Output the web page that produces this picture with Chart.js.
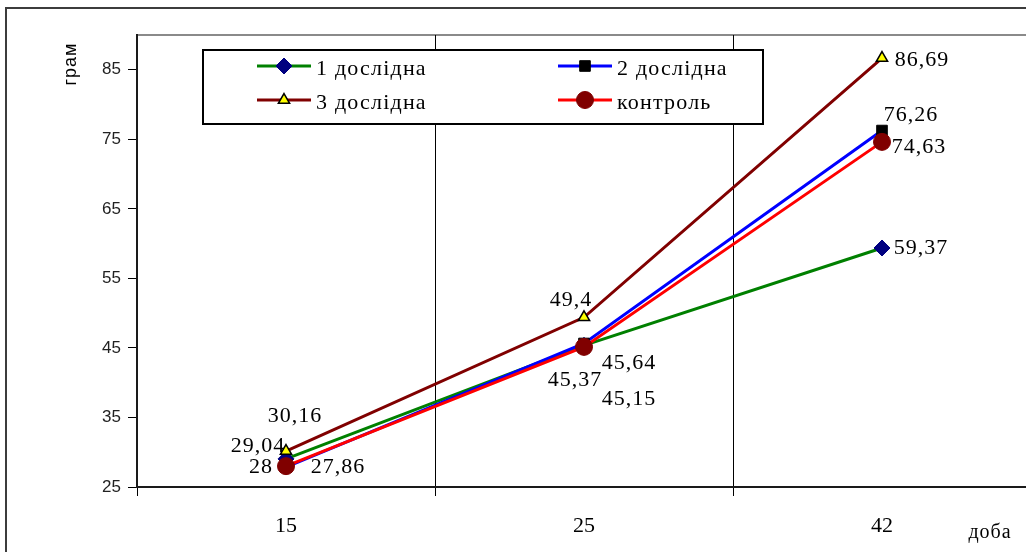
<!DOCTYPE html>
<html>
<head>
<meta charset="utf-8">
<script src="https://cdn.jsdelivr.net/npm/chart.js@4"></script>
<style>
  html, body { margin: 0; padding: 0; overflow: hidden; background: #fff; }
  #wrap { position: absolute; left: 0; top: 0; width: 1060px; height: 552px; }
</style>
</head>
<body>
<div id="wrap"><canvas id="chart"></canvas></div>
<script>
// Live weight by day, grams
const days = ['15', '25', '42'];
const group1 = [29.04, 45.37, 59.37];
const group2 = [27.86, 45.64, 76.26];
const group3 = [30.16, 49.4, 86.69];
const control = [28, 45.15, 74.63];
const yTicks = [25, 35, 45, 55, 65, 75, 85];

// where each value label sits relative to its point (dx, dy)
const labelShift = [
  [[-28, -13], [-9, 35], [39, 0]],
  [[52, 0], [45, 20], [29, -15]],
  [[9, -35], [-13, -17], [40, 2]],
  [[-25, 1], [45, 52], [37, 5]]
];

const serif = '"Liberation Serif", "Times New Roman", serif';
const sans = '"Liberation Sans", Arial, sans-serif';

const fmt = v => String(v).replace('.', ',');

function drawMarker(ctx, ds, x, y) {
  ctx.save();
  ctx.fillStyle = ds.pointBackgroundColor;
  ctx.strokeStyle = ds.pointBorderColor;
  ctx.lineWidth = ds.pointBorderWidth;
  Chart.helpers.drawPoint(ctx, {
    pointStyle: ds.pointStyle,
    radius: ds.pointRadius,
    borderWidth: ds.pointBorderWidth,
    rotation: 0
  }, x, y);
  ctx.restore();
}

const framePlugin = {
  id: 'frame',
  beforeDraw(chart) {
    const { ctx, chartArea: a } = chart;
    ctx.save();
    // outer border of the chart object
    ctx.strokeStyle = '#3c3c3c';
    ctx.lineWidth = 2;
    ctx.strokeRect(6, 8, 2000, 2000);
    // top edge of plot area
    ctx.strokeStyle = '#8a8a8a';
    ctx.lineWidth = 2;
    ctx.beginPath();
    ctx.moveTo(a.left, a.top);
    ctx.lineTo(a.right, a.top);
    ctx.stroke();
    ctx.restore();
  },
  afterDraw(chart) {
    const { ctx } = chart;
    ctx.save();
    ctx.fillStyle = '#000';
    // axis titles
    ctx.font = '18px ' + sans;
    ctx.letterSpacing = '1px';
    ctx.textAlign = 'center';
    ctx.textBaseline = 'middle';
    ctx.translate(71, 64);
    ctx.rotate(-Math.PI / 2);
    ctx.fillText('грам', 0, 0);
    ctx.setTransform(1, 0, 0, 1, 0, 0);
    ctx.font = '20px ' + serif;
    ctx.fillText('доба', 990, 533);

    // legend
    const box = { left: 203, top: 50, right: 763, bottom: 124 };
    ctx.fillStyle = '#fff';
    ctx.fillRect(box.left, box.top, box.right - box.left, box.bottom - box.top);
    ctx.strokeStyle = '#000';
    ctx.lineWidth = 2;
    ctx.strokeRect(box.left, box.top, box.right - box.left, box.bottom - box.top);
    const cols = [257, 558];
    const rows = [66, 100];
    ctx.font = '22px ' + serif;
    ctx.letterSpacing = '1.2px';
    ctx.textAlign = 'left';
    chart.data.datasets.forEach((ds, i) => {
      const x = cols[i % 2];
      const y = rows[Math.floor(i / 2)];
      ctx.strokeStyle = ds.borderColor;
      ctx.lineWidth = 3;
      ctx.beginPath();
      ctx.moveTo(x, y);
      ctx.lineTo(x + 54, y);
      ctx.stroke();
      drawMarker(ctx, ds, x + 27, y);
      ctx.fillStyle = '#000';
      ctx.fillText(ds.label, x + 59, y + 3);
    });
    ctx.restore();
  }
};

const valueLabels = {
  id: 'valueLabels',
  afterDatasetsDraw(chart) {
    const { ctx } = chart;
    ctx.save();
    ctx.font = '22px ' + serif;
    ctx.letterSpacing = '1px';
    ctx.fillStyle = '#000';
    ctx.textAlign = 'center';
    ctx.textBaseline = 'middle';
    chart.data.datasets.forEach((ds, i) => {
      chart.getDatasetMeta(i).data.forEach((pt, j) => {
        const [dx, dy] = labelShift[i][j];
        ctx.fillText(fmt(ds.data[j]), pt.x + dx, pt.y + dy);
      });
    });
    ctx.restore();
  }
};

new Chart(document.getElementById('chart'), {
  type: 'line',
  data: {
    labels: days,
    datasets: [
      {
        label: '1 дослідна', data: group1, order: 3,
        borderColor: '#008000', borderWidth: 3,
        pointStyle: 'rectRot', pointRadius: 8,
        pointBackgroundColor: '#000080', pointBorderColor: '#000080', pointBorderWidth: 1
      },
      {
        label: '2 дослідна', data: group2, order: 2,
        borderColor: '#0000ff', borderWidth: 3,
        pointStyle: 'rect', pointRadius: 7.5,
        pointBackgroundColor: '#000', pointBorderColor: '#000', pointBorderWidth: 1
      },
      {
        label: '3 дослідна', data: group3, order: 1,
        borderColor: '#800000', borderWidth: 3,
        pointStyle: 'triangle', pointRadius: 6.5,
        pointBackgroundColor: '#ffff00', pointBorderColor: '#000', pointBorderWidth: 1.5
      },
      {
        label: 'контроль', data: control, order: 0,
        borderColor: '#ff0000', borderWidth: 3,
        pointStyle: 'circle', pointRadius: 8.5,
        pointBackgroundColor: '#800000', pointBorderColor: '#800000', pointBorderWidth: 1
      }
    ]
  },
  options: {
    responsive: true,
    maintainAspectRatio: false,
    animation: false,
    layout: { padding: { top: 35, right: 29, left: 0, bottom: 0 } },
    elements: { line: { tension: 0 } },
    scales: {
      x: {
        offset: true,
        grid: {
          offset: true,
          color: '#000',
          lineWidth: 1,
          drawOnChartArea: true,
          tickLength: 9,
          tickColor: '#000'
        },
        border: { color: '#1a1a1a', width: 2 },
        ticks: { font: { family: serif, size: 22 }, color: '#000', padding: 17 },
        afterFit(s) { s.height = 65; }
      },
      y: {
        min: 25,
        max: 90,
        afterBuildTicks(s) { s.ticks = yTicks.map(v => ({ value: v })); },
        grid: { drawOnChartArea: false, tickLength: 9, color: '#000' },
        border: { color: '#1a1a1a', width: 2 },
        ticks: { font: { family: sans, size: 17 }, color: '#222', padding: 7 },
        afterFit(s) { s.width = 137; }
      }
    },
    plugins: {
      legend: { display: false },
      tooltip: { enabled: false }
    }
  },
  plugins: [framePlugin, valueLabels]
});
</script>
</body>
</html>
